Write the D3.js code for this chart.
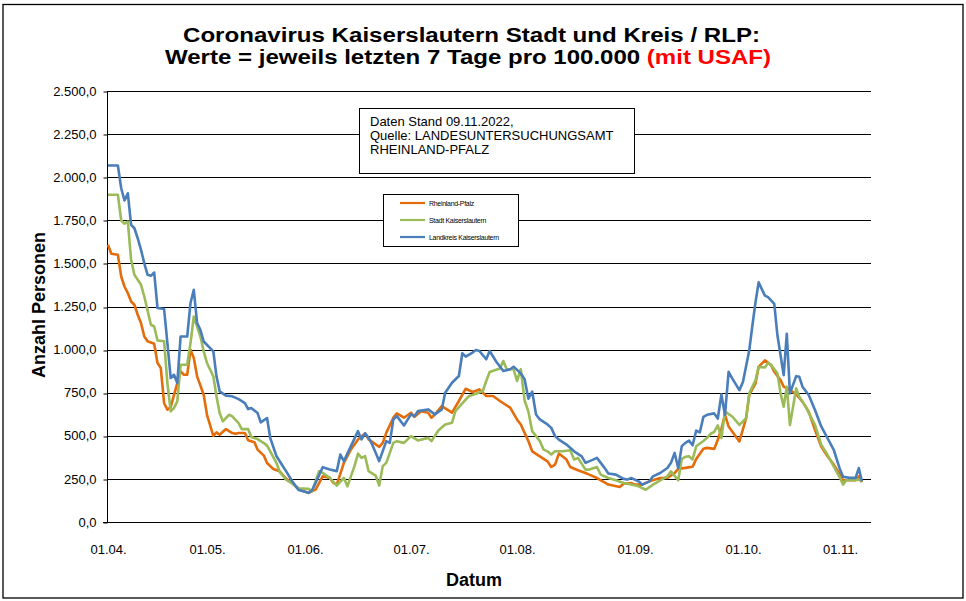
<!DOCTYPE html>
<html>
<head>
<meta charset="utf-8">
<script src="https://cdn.jsdelivr.net/npm/d3@7"></script>
<style>
  html, body { margin: 0; padding: 0; background: #fff; }
  svg { display: block; font-family: "Liberation Sans", Arial, sans-serif; }
</style>
</head>
<body>
<svg id="chart" width="966" height="601"></svg>
<script>
// ---- data (day offset from 01.04.2022, value per 100.000) ----
const startDate = [2022, 3, 1];
const monthTickLabels = ["01.04.", "01.05.", "01.06.", "01.07.", "01.08.", "01.09.", "01.10.", "01.11."];
const monthTickDates = ["2022-04-01", "2022-05-01", "2022-06-01", "2022-07-01", "2022-08-01", "2022-09-01", "2022-10-01", "2022-11-01"];
const yTicks = [0, 250, 500, 750, 1000, 1250, 1500, 1750, 2000, 2250, 2500];
const seriesNames = ["Rheinland-Pfalz", "Stadt Kaiserslautern", "Landkreis Kaiserslautern"];

const rheinlandPfalz = [[0,1608],[1,1556],[3,1550],[4,1424],[5,1366],[6,1328],[7,1279],[8,1260],[9,1202],[10,1154],[11,1076],[12,1048],[14,1034],[15,922],[16,893],[17,690],[18,651],[19,667],[21,806],[22,874],[23,854],[24,854],[25,1000],[26,951],[27,845],[29,738],[30,622],[32,500],[33,520],[34,506],[36,539],[38,516],[39,512],[40,516],[42,516],[43,474],[45,462],[46,420],[48,385],[49,342],[51,307],[53,294],[55,252],[57,226],[59,188],[62,169],[64,188],[66,265],[68,256],[69,227],[70,217],[72,343],[74,421],[76,479],[78,514],[79,479],[81,450],[82,436],[83,459],[84,517],[86,605],[87,630],[89,605],[91,634],[92,610],[94,643],[96,634],[97,605],[98,624],[100,672],[103,634],[105,702],[107,773],[109,754],[111,769],[113,731],[115,731],[117,702],[120,663],[122,595],[123,566],[124,517],[125,468],[126,410],[128,381],[130,352],[131,319],[132,333],[133,397],[135,362],[136,319],[138,300],[140,284],[141,275],[143,255],[145,230],[146,217],[149,203],[150,222],[152,226],[153,217],[155,217],[157,236],[160,255],[162,255],[164,284],[165,308],[167,314],[169,321],[170,365],[172,425],[173,430],[175,424],[176,477],[177,540],[178,621],[179,554],[181,496],[182,467],[184,602],[185,737],[187,804],[188,900],[190,938],[192,910],[193,871],[195,823],[196,785],[198,765],[200,742],[202,698],[204,640],[206,535],[208,438],[210,381],[212,333],[214,275],[215,242],[217,242],[219,242],[220,265],[221,232]];

const stadtKL = [[0,1898],[3,1898],[4,1749],[5,1730],[6,1743],[7,1521],[8,1434],[10,1376],[11,1308],[13,1144],[14,1134],[15,1053],[17,1048],[18,806],[19,642],[20,661],[21,700],[22,912],[24,912],[25,1038],[26,1192],[28,1076],[29,990],[30,922],[32,845],[33,729],[34,632],[35,584],[37,622],[38,613],[40,574],[41,539],[43,539],[44,493],[46,481],[48,458],[49,443],[50,410],[52,342],[53,290],[55,246],[57,222],[59,195],[62,192],[63,178],[65,295],[66,285],[68,256],[70,211],[72,256],[73,207],[75,324],[76,397],[77,372],[78,382],[79,295],[81,269],[82,211],[83,324],[84,343],[86,459],[87,469],[89,459],[91,498],[93,473],[96,488],[97,469],[99,531],[101,566],[103,576],[104,643],[106,688],[108,731],[110,744],[112,760],[113,818],[114,870],[117,890],[118,934],[119,886],[121,886],[122,818],[123,886],[124,705],[125,640],[126,527],[128,469],[129,420],[130,410],[131,391],[132,410],[134,410],[136,416],[137,362],[138,372],[140,304],[141,304],[143,319],[144,275],[146,255],[148,242],[150,226],[152,217],[154,207],[156,187],[158,217],[160,242],[162,265],[163,294],[165,242],[166,366],[167,378],[168,381],[169,363],[170,439],[172,470],[173,488],[174,512],[175,523],[176,560],[177,487],[178,640],[180,612],[182,563],[184,602],[185,746],[187,823],[188,900],[190,896],[191,923],[192,910],[194,862],[195,746],[196,669],[197,785],[198,563],[200,775],[201,727],[203,669],[206,563],[208,448],[210,390],[212,323],[214,256],[215,217],[216,242],[218,242],[220,246],[221,236]];

const landkreisKL = [[0,2068],[3,2068],[4,1936],[5,1865],[6,1907],[7,1724],[8,1704],[9,1646],[10,1579],[11,1500],[12,1434],[13,1428],[14,1447],[15,1241],[17,1235],[18,1038],[19,835],[20,854],[21,806],[22,1076],[24,1076],[25,1270],[26,1347],[27,1154],[28,1115],[29,1047],[32,990],[33,845],[34,758],[36,733],[38,729],[40,713],[42,690],[43,655],[44,661],[46,632],[47,578],[49,603],[50,487],[52,381],[53,352],[55,295],[57,235],[59,186],[61,176],[62,169],[63,184],[64,227],[66,318],[68,304],[70,295],[71,391],[72,353],[74,440],[76,527],[77,479],[78,514],[79,488],[80,450],[81,401],[82,353],[84,469],[85,459],[86,595],[87,614],[89,560],[91,624],[92,614],[93,643],[96,653],[98,624],[100,653],[101,750],[103,808],[105,847],[106,979],[107,959],[109,983],[110,998],[111,992],[113,944],[114,992],[116,928],[118,876],[120,886],[121,901],[123,862],[124,828],[125,715],[126,756],[127,624],[128,595],[130,566],[131,546],[132,498],[133,478],[135,449],[137,410],[139,381],[140,343],[142,362],[143,372],[145,314],[146,281],[148,275],[150,250],[151,246],[152,255],[154,236],[155,217],[157,236],[158,265],[160,284],[162,313],[163,343],[164,401],[165,313],[166,440],[167,459],[168,472],[169,445],[170,530],[171,520],[172,610],[173,622],[175,630],[176,600],[177,740],[178,621],[179,871],[180,833],[182,765],[183,813],[185,996],[186,1140],[187,1275],[188,1390],[190,1313],[191,1304],[193,1265],[194,1083],[196,852],[197,1092],[198,746],[200,846],[201,842],[202,785],[204,737],[206,650],[208,554],[210,487],[212,419],[214,304],[215,262],[217,256],[219,256],[220,313],[221,236]];

const seriesColors = ["#E46C0A", "#9BBB59", "#4A7EBB"];

// ---- layout ----
const svg = d3.select("#chart");
const plot = { left: 107, right: 871, top: 91, bottom: 522 };
// month label centres in the reference (category axis, uneven spacing)
const monthPx = [108, 207, 305, 411, 517, 635, 743, 840];

const parse = d3.utcParse("%Y-%m-%d");
const x = d3.scaleUtc().domain(monthTickDates.map(parse)).range(monthPx);
const y = d3.scaleLinear().domain([0, 2500]).range([plot.bottom, plot.top]);

const de = d3.formatLocale({ decimal: ",", thousands: ".", grouping: [3], currency: ["", "€"] });
const fmt = de.format(",.1f");

const toDate = d => new Date(Date.UTC(startDate[0], startDate[1], startDate[2] + d));

// outer border
svg.append("rect").attr("x", 3).attr("y", 4.5).attr("width", 960).attr("height", 593.5)
  .attr("fill", "none").attr("stroke", "#000").attr("stroke-width", 1.3);

// gridlines
svg.append("g").selectAll("line").data(yTicks.filter(v => v > 0)).join("line")
  .attr("x1", plot.left).attr("x2", plot.right)
  .attr("y1", d => Math.round(y(d)) + 0.5).attr("y2", d => Math.round(y(d)) + 0.5)
  .attr("stroke", "#000").attr("stroke-width", 1);

// y axis
const yAxis = d3.axisLeft(y).tickValues(yTicks).tickFormat(fmt).tickSize(4).tickPadding(7);
const gy = svg.append("g").attr("transform", `translate(${plot.left + 0.5},0)`).call(yAxis);
gy.select(".domain").attr("d", `M0,${plot.top}V${plot.bottom}`).attr("stroke", "#000");
gy.selectAll(".tick line").attr("stroke", "#000").attr("transform", d => `translate(0,${Math.round(y(d)) + 0.5 - y(d)})`);
gy.selectAll("text").attr("font-size", 13).attr("fill", "#000").attr("font-family", "Liberation Sans, Arial, sans-serif");

// x axis baseline
svg.append("line").attr("x1", plot.left - 4).attr("x2", plot.right)
  .attr("y1", Math.round(y(0)) + 0.5).attr("y2", Math.round(y(0)) + 0.5).attr("stroke", "#000");

// x tick labels
const xAxis = d3.axisBottom(x).tickValues(monthTickDates.map(parse))
  .tickFormat((d, i) => monthTickLabels[i]).tickSize(0).tickPadding(23);
const gx = svg.append("g").attr("transform", `translate(0,${plot.bottom})`).call(xAxis);
gx.select(".domain").remove();
gx.selectAll("text").attr("font-size", 13).attr("fill", "#000").attr("font-family", "Liberation Sans, Arial, sans-serif");

// lines
const line = d3.line().x(p => x(toDate(p[0]))).y(p => y(p[1]));
[rheinlandPfalz, stadtKL, landkreisKL].forEach((s, i) => {
  svg.append("path").datum(s).attr("d", line)
    .attr("fill", "none").attr("stroke", seriesColors[i]).attr("stroke-width", 2.6)
    .attr("stroke-linejoin", "round");
});

// titles (reference title is drawn horizontally wide)
svg.append("text").attr("x", 183).attr("y", 42).attr("font-weight", "bold").attr("font-size", 19.5)
  .attr("textLength", 577).attr("lengthAdjust", "spacingAndGlyphs").attr("fill", "#000")
  .text("Coronavirus Kaiserslautern Stadt und Kreis / RLP:");
const t2 = svg.append("text").attr("x", 165).attr("y", 64).attr("font-weight", "bold").attr("font-size", 19.5)
  .attr("textLength", 606).attr("lengthAdjust", "spacingAndGlyphs").attr("fill", "#000");
t2.append("tspan").text("Werte = jeweils letzten 7 Tage pro 100.000 ");
t2.append("tspan").attr("fill", "#FF0000").text("(mit USAF)");

svg.append("text").attr("transform", "translate(45,305) rotate(-90)").attr("text-anchor", "middle")
  .attr("font-weight", "bold").attr("font-size", 18).text("Anzahl Personen");
svg.append("text").attr("x", 474).attr("y", 586).attr("text-anchor", "middle")
  .attr("font-weight", "bold").attr("font-size", 18).text("Datum");

// info box
const info = svg.append("g");
info.append("rect").attr("x", 359.5).attr("y", 108.5).attr("width", 275).attr("height", 65)
  .attr("fill", "#fff").attr("stroke", "#000");
const infoLines = ["Daten Stand 09.11.2022,", "Quelle: LANDESUNTERSUCHUNGSAMT", "RHEINLAND-PFALZ"];
info.selectAll("text").data(infoLines).join("text")
  .attr("x", 370).attr("y", (d, i) => 126 + i * 14).attr("font-size", 13).attr("fill", "#000").text(d => d);

// legend
const leg = svg.append("g");
leg.append("rect").attr("x", 383.5).attr("y", 194.5).attr("width", 135).attr("height", 52)
  .attr("fill", "#fff").attr("stroke", "#000");
const li = leg.selectAll("g.item").data(seriesNames).join("g").attr("class", "item")
  .attr("transform", (d, i) => `translate(0,${203 + i * 17})`);
li.append("line").attr("x1", 400).attr("x2", 425).attr("stroke", (d, i) => seriesColors[i]).attr("stroke-width", 2.2);
li.append("text").attr("x", 429).attr("y", 2.5).attr("font-size", 7).attr("letter-spacing", -0.3).attr("fill", "#000").text(d => d);
</script>
</body>
</html>
